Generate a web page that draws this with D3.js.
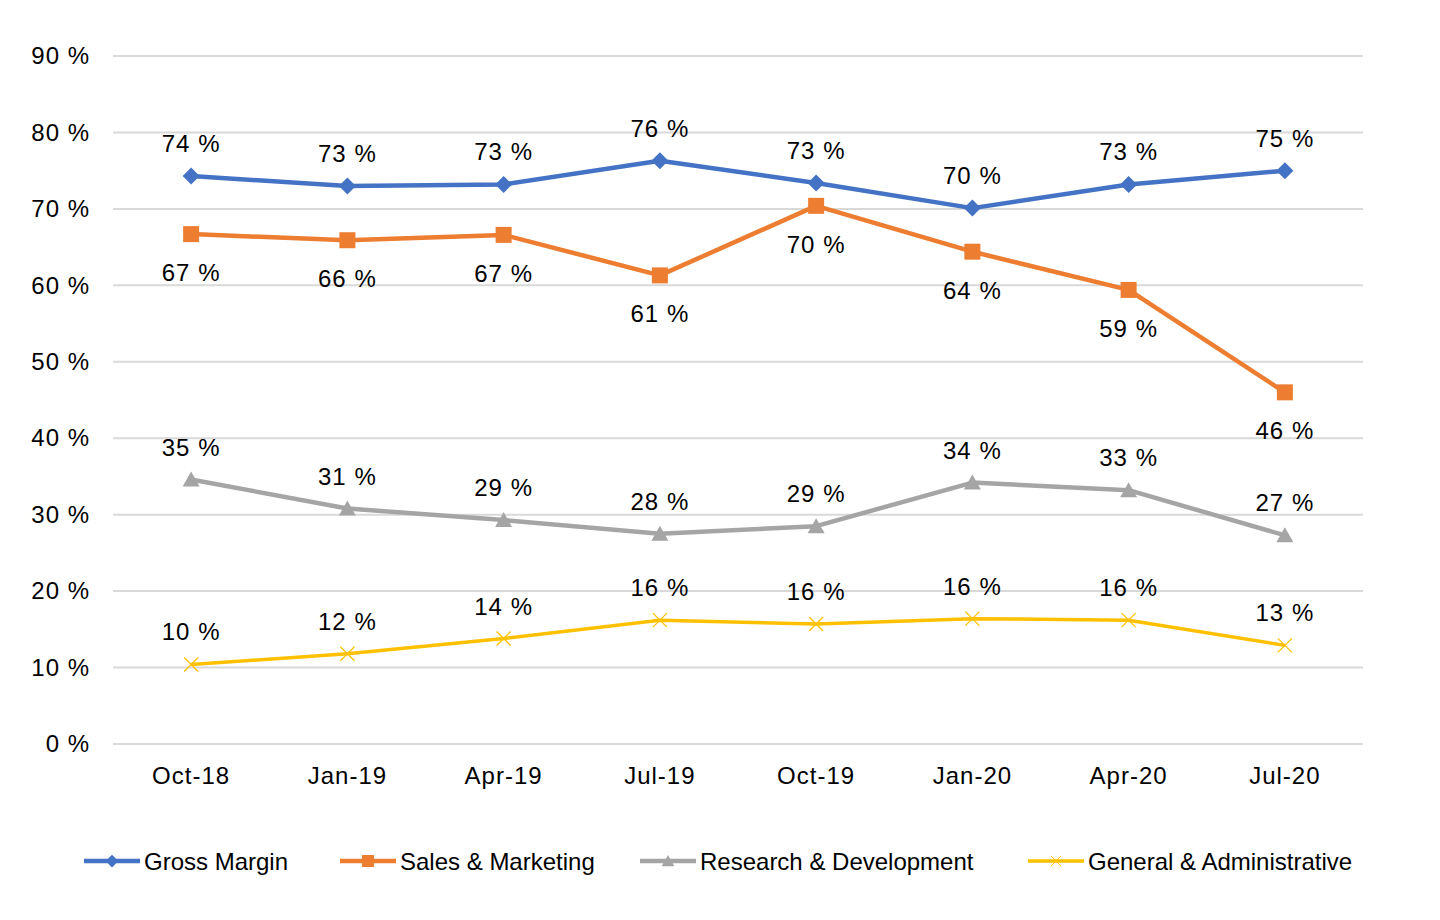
<!DOCTYPE html>
<html>
<head>
<meta charset="utf-8">
<script src="https://cdn.jsdelivr.net/npm/d3@7"></script>
<style>
  body { margin: 0; background: #fff; }
  text { font-family: "Liberation Sans", Arial, sans-serif; fill: #000; }
</style>
</head>
<body>
<div id="chart"></div>
<script>
var categories = ["Oct-18", "Jan-19", "Apr-19", "Jul-19", "Oct-19", "Jan-20", "Apr-20", "Jul-20"];
var grossMargin = [74.3, 73.0, 73.2, 76.3, 73.4, 70.1, 73.2, 75.0];
var salesMarketing = [66.7, 65.9, 66.6, 61.3, 70.4, 64.4, 59.4, 46.0];
var researchDev = [34.6, 30.8, 29.3, 27.5, 28.5, 34.2, 33.2, 27.3];
var generalAdmin = [10.4, 11.8, 13.8, 16.2, 15.7, 16.4, 16.2, 12.9];
var yTicks = [0, 10, 20, 30, 40, 50, 60, 70, 80, 90];

var series = [
    { name: "Gross Margin", values: grossMargin, color: "#4472C4", marker: "diamond", labelPos: "above" },
    { name: "Sales & Marketing", values: salesMarketing, color: "#ED7D31", marker: "square", labelPos: "below" },
    { name: "Research & Development", values: researchDev, color: "#A5A5A5", marker: "triangle", labelPos: "above" },
    { name: "General & Administrative", values: generalAdmin, color: "#FFC000", marker: "cross", labelPos: "above" }
];

var W = 1440, H = 920;
var margin = { top: 56, right: 77, bottom: 176, left: 113 };

var svg = d3.select("#chart").append("svg")
    .attr("width", W)
    .attr("height", H);

var xScale = d3.scaleBand()
    .domain(categories)
    .range([margin.left, W - margin.right]);

var yScale = d3.scaleLinear()
    .domain([0, 90])
    .range([H - margin.bottom, margin.top]);

function cx(i) { return xScale(categories[i]) + xScale.bandwidth() / 2; }

// gridlines
svg.append("g")
    .selectAll("line")
    .data(yTicks)
    .enter().append("line")
    .attr("x1", margin.left)
    .attr("x2", W - margin.right)
    .attr("y1", function(d) { return yScale(d); })
    .attr("y2", function(d) { return yScale(d); })
    .style("stroke", "#d9d9d9")
    .style("stroke-width", 2);

// y axis labels
var yAxis = d3.axisLeft(yScale)
    .tickValues(yTicks)
    .tickSize(0)
    .tickPadding(0)
    .tickFormat(function(d) { return d + " %"; });

var yg = svg.append("g")
    .attr("transform", "translate(" + 90 + ",0)")
    .call(yAxis);
yg.select(".domain").remove();
yg.selectAll("text")
    .style("font-size", "24px")
    .style("letter-spacing", "1px")
    .style("font-family", "'Liberation Sans', Arial, sans-serif")
    .attr("fill", "#000");

// x axis labels
var xAxis = d3.axisBottom(xScale).tickSize(0).tickPadding(0);
var xg = svg.append("g")
    .attr("transform", "translate(0," + (H - margin.bottom + 23) + ")")
    .call(xAxis);
xg.select(".domain").remove();
xg.selectAll("text")
    .style("font-size", "24px")
    .style("letter-spacing", "1px")
    .style("font-family", "'Liberation Sans', Arial, sans-serif")
    .attr("fill", "#000");

function markerPath(type) {
    if (type === "diamond") return "M0,-8.5L8.5,0L0,8.5L-8.5,0Z";
    if (type === "square") return "M-8,-8H8V8H-8Z";
    if (type === "triangle") return "M0,-8L8.5,7H-8.5Z";
    return "M-7,-7L7,7M-7,7L7,-7";
}

function drawMarker(sel, s) {
    sel.append("path")
        .attr("d", markerPath(s.marker))
        .style("fill", s.marker === "cross" ? "none" : s.color)
        .style("stroke", s.color)
        .style("stroke-width", s.marker === "cross" ? 1.3 : 0);
}

var line = d3.line()
    .x(function(d, i) { return cx(i); })
    .y(function(d) { return yScale(d); });

series.forEach(function(s) {
    var g = svg.append("g");

    g.append("path")
        .datum(s.values)
        .attr("d", line)
        .style("fill", "none")
        .style("stroke", s.color)
        .style("stroke-width", s.marker === "cross" ? 3.5 : 4.5)
        .style("stroke-linejoin", "round");

    s.values.forEach(function(v, i) {
        var m = g.append("g")
            .attr("transform", "translate(" + cx(i) + "," + yScale(v) + ")");
        drawMarker(m, s);
    });

    g.selectAll("text.lbl")
        .data(s.values)
        .enter().append("text")
        .attr("class", "lbl")
        .attr("x", function(d, i) { return cx(i); })
        .attr("y", function(d) {
            return s.labelPos === "above" ? yScale(d) - 24 : yScale(d) + 47;
        })
        .attr("text-anchor", "middle")
        .style("font-size", "24px")
        .style("letter-spacing", "1px")
        .text(function(d) { return Math.round(d) + " %"; });
});

// legend
var legendX = [84, 340, 640, 1028];
var legend = svg.append("g");
series.forEach(function(s, i) {
    var lg = legend.append("g")
        .attr("transform", "translate(" + legendX[i] + ",861)");
    lg.append("line")
        .attr("x1", 0).attr("x2", 56)
        .attr("y1", 0).attr("y2", 0)
        .style("stroke", s.color)
        .style("stroke-width", s.marker === "cross" ? 3.5 : 4.5);
    var m = lg.append("g").attr("transform", "translate(28,0) scale(0.75)");
    drawMarker(m, s);
    lg.append("text")
        .attr("x", 60)
        .attr("y", 9)
        .style("font-size", "24px")
        .text(s.name);
});
</script>
</body>
</html>
